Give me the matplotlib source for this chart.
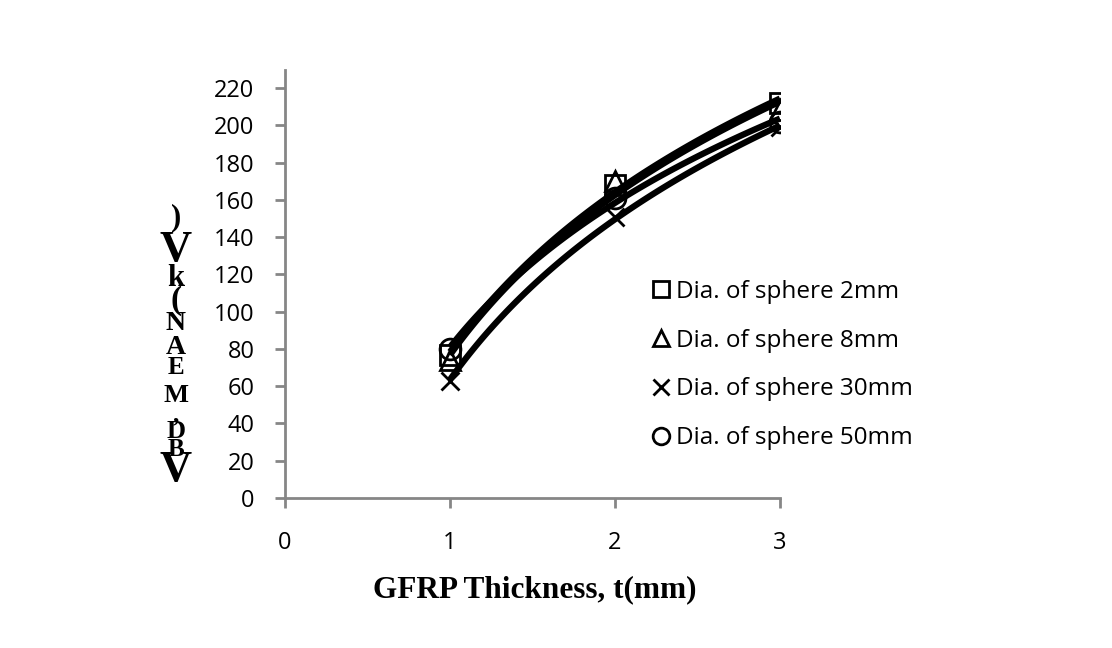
import numpy as np
import matplotlib
matplotlib.use("Agg")
import matplotlib.pyplot as plt

thickness = [1, 2, 3]
labels = ["Dia. of sphere 2mm", "Dia. of sphere 8mm", "Dia. of sphere 30mm", "Dia. of sphere 50mm"]
vbd_2mm = [77, 168, 212]
vbd_8mm = [74, 170, 208]
vbd_30mm = [63, 151, 199]
vbd_50mm = [80, 161, 202]
markers = ["s", "^", "x", "o"]
series = [vbd_2mm, vbd_8mm, vbd_30mm, vbd_50mm]
ylabel_chars = ["V", "B", "D", ",", "M", "E", "A", "N", "(", "k", "V", ")"]

fig = plt.figure(figsize=(11.12, 6.48), dpi=100)
ax = fig.add_axes([285/1112, 1-498/648, (780-285)/1112, (498-70)/648])
tick_font = "Open Sans"
axcol = "#868686"

xs = np.linspace(1, 3, 100)
for vals, m, lab in zip(series, markers, labels):
    x = np.array(thickness, float)
    y = np.array(vals, float)
    a, b = np.polyfit(np.log(x), y, 1)  # logarithmic trendline
    ax.plot(xs, a * np.log(xs) + b, color="black", lw=4.5, solid_capstyle="butt", zorder=2)
    ax.plot(x, y, linestyle="none", marker=m, markersize=15 if m != "x" else 13,
            markerfacecolor="none", markeredgecolor="black", markeredgewidth=2, zorder=3)

ax.set_xlim(0, 3)
ax.set_ylim(0, 229.7)
ax.set_xticks([0, 1, 2, 3])
ax.set_yticks(range(0, 221, 20))
for s in ["top", "right"]:
    ax.spines[s].set_visible(False)
for s in ["left", "bottom"]:
    ax.spines[s].set_color(axcol)
    ax.spines[s].set_linewidth(2)
ax.tick_params(axis="both", colors=axcol, width=2, length=7, labelcolor="black", labelsize=17)
ax.tick_params(axis="x", pad=17)
ax.tick_params(axis="y", pad=15)
for t in ax.get_xticklabels() + ax.get_yticklabels():
    t.set_fontfamily(tick_font)

# legend
handles = [plt.Line2D([], [], linestyle="none", marker=m, markersize=12 if m != "x" else 11,
                      markerfacecolor="none", markeredgecolor="black", markeredgewidth=2)
           for m in markers]
leg = fig.legend(handles, labels, loc="upper left", bbox_to_anchor=(632/1112, 1-258/648),
                 frameon=False, handlelength=0.6, handletextpad=0.3, labelspacing=1.02,
                 prop={"family": tick_font, "size": 17.5})

# x label
fig.text(535/1112, 1-590/648, "GFRP Thickness, t(mm)", ha="center", va="center",
         family="Liberation Serif", fontweight="bold", fontsize=22.5)

# stacked y label
ypos = [470, 450, 432, 415, 395, 368, 347, 323, 300, 279, 250, 218]
sizes = [32, 18, 19, 18, 19, 18, 20, 20, 24, 22, 32, 22]
for ch, yp, sz in zip(ylabel_chars, ypos, sizes):
    fig.text(176/1112, 1-yp/648, ch, ha="center", va="center",
             family="Liberation Serif", fontweight="bold", fontsize=sz)

fig.savefig("out.png", dpi=100)
